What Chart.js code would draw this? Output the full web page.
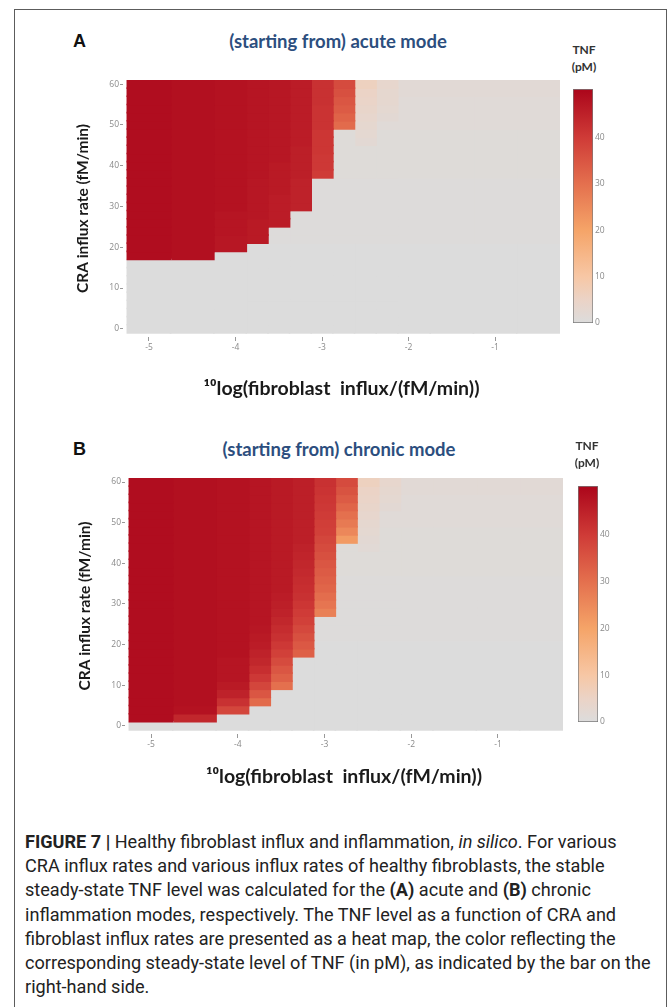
<!DOCTYPE html>
<html>
<head>
<meta charset="utf-8">
<script src="https://cdn.jsdelivr.net/npm/chart.js@4.4.0/dist/chart.umd.min.js"></script>
<style>
  body { margin: 0; background: #fff; }
  #page { position: relative; width: 669px; height: 1007px; overflow: hidden; background: #fff; }
  .frame { position: absolute; left: 14px; top: 9px; width: 651px; height: 1010px; border: 1px solid #5c5c5c; }
  .abs { position: absolute; }
  .letter { font-family: "Liberation Sans", Arial, sans-serif; font-weight: bold; font-size: 18px; color: #111; }
  .ptitle { font-family: Lato, "Open Sans", sans-serif; font-weight: bold; font-size: 18.5px; color: #2c4e7e; transform: translateX(-50%); white-space: nowrap; }
  .unit { font-family: Lato, "Open Sans", sans-serif; font-weight: bold; font-size: 12px; color: #333; text-align: center; width: 50px; line-height: 17px; }
  .caption { font-family: Roboto, "Liberation Sans", sans-serif; font-size: 18.1px; line-height: 24.2px; color: #222; white-space: nowrap; }
</style>
</head>
<body>
<div id="page">
  <div class="frame"></div>

  <!-- panel A -->
  <div class="abs letter" style="left:73px;top:31px">A</div>
  <div class="abs ptitle" style="left:338px;top:30px">(starting from) acute mode</div>
  <div class="abs unit" style="left:559px;top:41px">TNF<br>(pM)</div>
  <div class="abs" style="left:70px;top:70px;width:510px;height:330px"><canvas id="heatA"></canvas></div>
  <div class="abs" style="left:570px;top:80px;width:50px;height:250px"><canvas id="barA"></canvas></div>

  <!-- panel B -->
  <div class="abs letter" style="left:73px;top:439px">B</div>
  <div class="abs ptitle" style="left:339px;top:438px">(starting from) chronic mode</div>
  <div class="abs unit" style="left:562px;top:437px">TNF<br>(pM)</div>
  <div class="abs" style="left:72px;top:468px;width:511px;height:320px"><canvas id="heatB"></canvas></div>
  <div class="abs" style="left:575px;top:477px;width:50px;height:252px"><canvas id="barB"></canvas></div>

  <div class="abs caption" style="left:25px;top:830px">
    <b>FIGURE 7 |</b> Healthy fibroblast influx and inflammation, <i>in silico</i>. For various<br>
    CRA influx rates and various influx rates of healthy fibroblasts, the stable<br>
    steady-state TNF level was calculated for the <b>(A)</b> acute and <b>(B)</b> chronic<br>
    inflammation modes, respectively. The TNF level as a function of CRA and<br>
    fibroblast influx rates are presented as a heat map, the color reflecting the<br>
    corresponding steady-state level of TNF (in pM), as indicated by the bar on the<br>
    right-hand side.
  </div>
</div>

<script>
// ---------- grid of the heat maps ----------
// fibroblast influx (10log) column edges
const xEdges = [-5.25, -4.75, -4.25, -3.875, -3.625, -3.375, -3.125, -2.875, -2.625, -2.375, -2.125, -1.75, -1.25, -0.75, -0.25];
// CRA influx rate rows (fM/min)
const yRows = [0, 2, 4, 6, 8, 10, 12, 14, 16, 18, 20, 22, 24, 26, 28, 30, 32, 34, 36, 38, 40, 42, 44, 46, 48, 50, 52, 54, 56, 58, 60];
const xTicks = [-5, -4, -3, -2, -1];
const yTicks = [0, 10, 20, 30, 40, 50, 60];
const barTicks = [0, 10, 20, 30, 40];

// colour scale (TNF pM)
const cmapStops = [0, 5, 10, 20, 30, 40, 50];
const cmapColors = ['#dcdcdc', '#ebd3c6', '#f7c7a5', '#f5a468', '#e4704e', '#cf3b37', '#ad081c'];
const tnfMax = 50.5;

// ---------- (A) acute mode ----------
// TNF per column, listed from the top row (60) downwards, for the high state
const highA = [
  [49, 49, 49, 49, 49, 49, 49, 49, 49, 49, 49, 49, 49, 49, 49, 49, 49, 49, 49, 49, 49, 49],
  [48.5, 48.5, 48.5, 48.5, 48.5, 48.5, 48.5, 48.5, 48.5, 48.5, 48.5, 48.5, 48.5, 48.5, 48.5, 48.5, 48.5, 48.5, 48.5, 48.5, 48.5, 48.5],
  [48, 48, 48, 48, 48, 48, 48, 48, 48, 48, 48, 48, 48, 48, 48, 48, 47.5, 47.5, 47.5, 47, 47],
  [47.5, 47.5, 47.5, 47.5, 47.5, 47.5, 47.5, 47.5, 47.5, 47.5, 47.5, 47.5, 47, 47, 47, 47, 47, 46.5, 46.5, 46.5],
  [47, 47, 47, 47, 47, 47, 47, 47, 47, 47, 46.5, 46.5, 46.5, 46.5, 46, 46, 46, 46],
  [46, 46, 46, 46, 46, 46, 46, 46, 45.5, 45.5, 45.5, 45.5, 45, 45, 45, 45],
  [42, 42, 42, 41.5, 41.5, 41.5, 41, 41, 41, 40.5, 40.5, 40],
  [37, 36, 35, 34, 32.5, 31],
  [6, 5, 4.5, 4, 3.5, 3, 2.5, 2],
  [3.5, 3, 3, 2.5, 2],
  [], [], [], []
];
// low state TNF per row (row 0 first)
const lowA = [0, 0, 0, 0, 0, 0, 0, 0, 0, 0, 0, 0.4, 0.4, 0.4, 0.4, 0.4, 0.4, 0.4, 0.4, 0.8, 0.8, 0.8, 0.8, 0.8, 0.8, 1.2, 1.2, 1.2, 1.2, 1.6, 1.6];

// ---------- (B) chronic mode ----------
const highB = [
  [49, 49, 49, 49, 49, 49, 49, 49, 49, 49, 49, 49, 49, 49, 49, 49, 49, 49, 49, 49, 49, 49, 49, 49, 49, 49, 49, 49, 49, 49],
  [48.5, 48.5, 48.5, 48.5, 48.5, 48.5, 48.5, 48.5, 48.5, 48.5, 48.5, 48.5, 48.5, 48.5, 48.5, 48.5, 48.5, 48.5, 48.5, 48.5, 48.5, 48.5, 48.5, 48.5, 48.5, 48.5, 48.5, 48.5, 48, 44],
  [48, 48, 48, 48, 48, 48, 48, 48, 48, 48, 48, 48, 48, 48, 48, 48, 48, 48, 48, 48, 48, 48, 47.5, 47.5, 47.5, 46.5, 45, 42, 38],
  [47.5, 47.5, 47.5, 47.5, 47.5, 47.5, 47.5, 47.5, 47.5, 47.5, 47.5, 47.5, 47.5, 47.5, 47.5, 47.5, 47.5, 47.5, 47, 46.5, 46, 45, 44, 42.5, 40.5, 38, 35, 31],
  [46.5, 46.5, 46.5, 46.5, 46.5, 46.5, 46.5, 46.5, 46.5, 46.5, 46.5, 46.5, 46.5, 46.5, 46, 45.5, 45, 44, 43, 42, 40.5, 39, 37, 35, 33, 30],
  [45.5, 45.5, 45.5, 45.5, 45.5, 45.5, 45.5, 45.5, 45, 44.5, 44, 43.5, 43, 42.5, 42, 41, 40, 39, 37.5, 36, 34.5, 33],
  [42, 41.5, 41, 40.5, 40, 39.5, 39, 38, 37, 36, 35, 34, 33, 32, 30.5, 29, 27],
  [37, 35.5, 34, 32, 30, 28, 25.5, 22],
  [6, 5, 4.5, 4, 3.5, 3, 2.5, 2, 1.5],
  [3.5, 3, 2.5, 2],
  [], [], [], []
];
const lowB = [0, 0, 0, 0, 0, 0, 0, 0, 0, 0, 0, 0.4, 0.4, 0.4, 0.4, 0.4, 0.4, 0.4, 0.4, 0.8, 0.8, 0.8, 0.8, 0.8, 0.8, 1.2, 1.2, 1.2, 1.2, 1.6, 1.6];

// ---------- helpers ----------
function hexToRgb(h) {
  return [parseInt(h.slice(1, 3), 16), parseInt(h.slice(3, 5), 16), parseInt(h.slice(5, 7), 16)];
}

function tnfColor(v) {
  if (v <= cmapStops[0]) return cmapColors[0];
  for (let i = 1; i < cmapStops.length; i++) {
    if (v <= cmapStops[i]) {
      const t = (v - cmapStops[i - 1]) / (cmapStops[i] - cmapStops[i - 1]);
      const a = hexToRgb(cmapColors[i - 1]), b = hexToRgb(cmapColors[i]);
      const c = a.map((x, k) => Math.round(x + (b[k] - x) * t));
      return 'rgb(' + c.join(',') + ')';
    }
  }
  return cmapColors[cmapColors.length - 1];
}

// one floating horizontal bar per cell, one dataset per column
function buildDatasets(high, low) {
  return xEdges.slice(0, -1).map((x0, c) => {
    const x1 = xEdges[c + 1];
    const col = high[c];
    const vals = yRows.map((y, r) => {
      const fromTop = yRows.length - 1 - r;
      return fromTop < col.length ? col[fromTop] : low[r];
    });
    return {
      data: yRows.map(y => ({ y: y, x: [x0, x1] })),
      backgroundColor: vals.map(tnfColor),
      borderWidth: 0,
      inflateAmount: 0.8,
      barPercentage: 1,
      categoryPercentage: 1,
      grouped: false
    };
  });
}

const tickFont = { family: 'Open Sans', size: 8.5 };
const tickColor = '#8a8a8a';

function heatmap(id, high, low, opts) {
  new Chart(document.getElementById(id), {
    type: 'bar',
    data: { datasets: buildDatasets(high, low) },
    options: {
      indexAxis: 'y',
      responsive: true,
      maintainAspectRatio: false,
      animation: false,
      events: [],
      layout: { padding: { top: 10, right: 20, left: 0, bottom: 0 } },
      plugins: { legend: { display: false }, tooltip: { enabled: false } },
      scales: {
        x: {
          type: 'linear',
          min: -5.30,
          max: -0.25,
          offset: false,
          afterBuildTicks: s => { s.ticks = xTicks.map(v => ({ value: v })); },
          afterFit: s => { s.height = opts.xAxisH; },
          grid: { offset: false, drawOnChartArea: false, tickLength: 4, color: '#999', tickWidth: 1 },
          border: { display: false },
          ticks: { font: tickFont, color: tickColor, padding: 1, maxRotation: 0 },
          title: {
            display: true,
            text: '¹⁰log(fibroblast  influx/(fM/min))',
            font: { family: 'Lato', weight: 'bold', size: 19.5 },
            color: '#1a1a1a',
            padding: { top: 0, bottom: 0 }
          }
        },
        y: {
          type: 'linear',
          min: -2,
          max: 61,
          offset: false,
          afterBuildTicks: s => { s.ticks = yTicks.map(v => ({ value: v })); },
          afterFit: s => { s.width = opts.yAxisW; },
          grid: { offset: false, drawOnChartArea: false, tickLength: 3, color: '#999', tickWidth: 1 },
          border: { display: false },
          ticks: { font: tickFont, color: tickColor, padding: 1 },
          title: {
            display: true,
            text: 'CRA influx rate (fM/min)',
            font: { family: 'Lato', weight: 'bold', size: 15.5 },
            color: '#1a1a1a',
            padding: { top: 4, bottom: 0 }
          }
        }
      }
    }
  });
}

function colorbar(id) {
  new Chart(document.getElementById(id), {
    type: 'bar',
    data: {
      labels: ['TNF'],
      datasets: [{
        data: [[0, tnfMax]],
        backgroundColor: ctx => {
          const chart = ctx.chart;
          if (!chart.chartArea) return cmapColors[0];
          const ys = chart.scales.y;
          const g = chart.ctx.createLinearGradient(0, ys.getPixelForValue(0), 0, ys.getPixelForValue(tnfMax));
          cmapStops.forEach((s, i) => g.addColorStop(Math.min(1, s / tnfMax), cmapColors[i]));
          g.addColorStop(1, cmapColors[cmapColors.length - 1]);
          return g;
        },
        borderColor: '#7a7a7a',
        borderWidth: 1,
        borderSkipped: false,
        barPercentage: 1,
        categoryPercentage: 1
      }]
    },
    options: {
      responsive: true,
      maintainAspectRatio: false,
      animation: false,
      events: [],
      layout: { padding: { top: 9, right: 7, left: 3, bottom: 4 } },
      plugins: { legend: { display: false }, tooltip: { enabled: false } },
      scales: {
        x: { display: false, offset: true },
        y: {
          position: 'right',
          min: 0,
          max: tnfMax,
          afterBuildTicks: s => { s.ticks = barTicks.map(v => ({ value: v })); },
          afterFit: s => { s.width = 20; },
          grid: { display: false, drawTicks: false },
          border: { display: false },
          ticks: { font: tickFont, color: tickColor, padding: 2 }
        }
      }
    }
  });
}

heatmap('heatA', highA, lowA, { xAxisH: 63, yAxisW: 53 });
heatmap('heatB', highB, lowB, { xAxisH: 54, yAxisW: 53 });
colorbar('barA');
colorbar('barB');
</script>
</body>
</html>
